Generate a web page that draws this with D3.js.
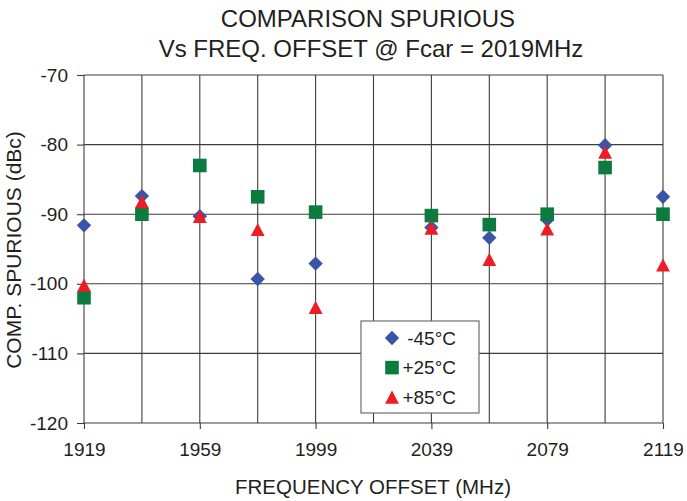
<!DOCTYPE html>
<html>
<head>
<meta charset="utf-8">
<script src="https://cdn.jsdelivr.net/npm/d3@7"></script>
<style>
  html, body { margin: 0; padding: 0; background: #fff; }
  svg text { font-family: Arial, "Liberation Sans", Helvetica, sans-serif; fill: #231f20; }
</style>
</head>
<body>
<div id="chart"></div>
<script>
// frequency offsets (MHz), one slot per gridline; 2019 has no measurement
const freqs = [1919, 1939, 1959, 1979, 1999, 2019, 2039, 2059, 2079, 2099, 2119];
const minus45 = [-91.6, -87.4, -90.3, -99.3, -97.1, null, -91.9, -93.4, -90.8, -80.1, -87.5];
const plus25 = [-102.0, -90.0, -83.0, -87.5, -89.7, null, -90.2, -91.5, -90.0, -83.3, -90.0];
const plus85 = [-100.2, -88.2, -90.3, -92.2, -103.4, null, -92.0, -96.5, -92.1, -81.1, -97.3];

const xGrid = [1919, 1939, 1959, 1979, 1999, 2019, 2039, 2059, 2079, 2099, 2119];
const xLabels = [1919, 1959, 1999, 2039, 2079, 2119];
const yTicks = [-70, -80, -90, -100, -110, -120];

const seriesNames = ["-45°C", "+25°C", "+85°C"];

const width = 687, height = 501;
const margin = { top: 75, right: 24, bottom: 78, left: 84 };

const svg = d3.select("#chart").append("svg")
  .attr("width", width)
  .attr("height", height);

const x = d3.scaleLinear().domain([1919, 2119]).range([margin.left, width - margin.right]);
const y = d3.scaleLinear().domain([-120, -70]).range([height - margin.bottom, margin.top]);

// marker shapes, centred on their bounding box
function diamond(s) { return "M0," + (-s) + "L" + s + ",0L0," + s + "L" + (-s) + ",0Z"; }
function square(s) { return "M" + (-s) + "," + (-s) + "h" + (2 * s) + "v" + (2 * s) + "h" + (-2 * s) + "Z"; }
function triangle(s) { return "M0," + (-s) + "L" + (s * 1.05) + "," + s + "L" + (-s * 1.05) + "," + s + "Z"; }

const series = [
  { name: seriesNames[0], values: minus45, color: "#3a55a5", path: diamond(7.2) },
  { name: seriesNames[1], values: plus25, color: "#0b7c3e", path: square(6.8) },
  { name: seriesNames[2], values: plus85, color: "#ee1c25", path: triangle(6.6) }
];

// gridlines
const grid = svg.append("g").attr("stroke", "#3c3c3c").attr("stroke-width", 1.1);
grid.selectAll(".hg").data(yTicks).enter().append("line")
  .attr("x1", x(1919)).attr("x2", x(2119))
  .attr("y1", d => y(d)).attr("y2", d => y(d));
grid.selectAll(".vg").data(xGrid).enter().append("line")
  .attr("x1", d => x(d)).attr("x2", d => x(d))
  .attr("y1", y(-70)).attr("y2", y(-120));

// y axis: ticks to the left, labels with a plain hyphen
const yAxis = svg.append("g")
  .attr("transform", "translate(" + margin.left + ",0)")
  .call(d3.axisLeft(y).tickValues(yTicks).tickSize(7).tickPadding(9).tickFormat(d => String(d)));
yAxis.select(".domain").remove();
yAxis.selectAll(".tick line").attr("stroke", "#3c3c3c").attr("stroke-width", 1.1);
yAxis.selectAll(".tick text")
  .attr("font-size", 19).attr("fill", "#231f20")
  .style("font-family", "Arial, 'Liberation Sans', sans-serif");

// x axis: ticks only at labelled values
const xAxis = svg.append("g")
  .attr("transform", "translate(0," + (height - margin.bottom) + ")")
  .call(d3.axisBottom(x).tickValues(xLabels).tickSize(6).tickPadding(14).tickFormat(d => String(d)));
xAxis.select(".domain").remove();
xAxis.selectAll(".tick line").attr("stroke", "#3c3c3c").attr("stroke-width", 1.1);
xAxis.selectAll(".tick text")
  .attr("font-size", 19).attr("fill", "#231f20")
  .style("font-family", "Arial, 'Liberation Sans', sans-serif");

// markers, drawn in series order so triangles sit on top
for (const s of series) {
  const pts = freqs.map((f, i) => ({ f: f, v: s.values[i] })).filter(d => d.v !== null);
  svg.append("g").selectAll("path").data(pts).enter().append("path")
    .attr("d", s.path)
    .attr("fill", s.color)
    .attr("transform", d => "translate(" + x(d.f) + "," + y(d.v) + ")");
}

// legend
const legend = svg.append("g").attr("transform", "translate(361,321)");
legend.append("rect")
  .attr("width", 118).attr("height", 92)
  .attr("fill", "#fff").attr("stroke", "#6d6e71").attr("stroke-width", 1.2);
series.forEach((s, i) => {
  const row = legend.append("g").attr("transform", "translate(0," + (17 + i * 29.6) + ")");
  row.append("path").attr("d", s.path).attr("fill", s.color).attr("transform", "translate(31,0)");
  row.append("text").attr("x", 95).attr("y", 6.5)
    .attr("text-anchor", "end").attr("font-size", 19)
    .text(s.name);
});

// titles
svg.append("text").attr("x", 368).attr("y", 27).attr("text-anchor", "middle")
  .attr("font-size", 24).text("COMPARISON SPURIOUS");
svg.append("text").attr("x", 371).attr("y", 57).attr("text-anchor", "middle")
  .attr("font-size", 24).text("Vs FREQ. OFFSET @ Fcar = 2019MHz");
svg.append("text").attr("x", 373).attr("y", 494).attr("text-anchor", "middle")
  .attr("font-size", 20.5).text("FREQUENCY OFFSET (MHz)");
svg.append("text").attr("transform", "translate(21,250) rotate(-90)")
  .attr("text-anchor", "middle").attr("font-size", 21)
  .text("COMP. SPURIOUS (dBc)");
</script>
</body>
</html>
